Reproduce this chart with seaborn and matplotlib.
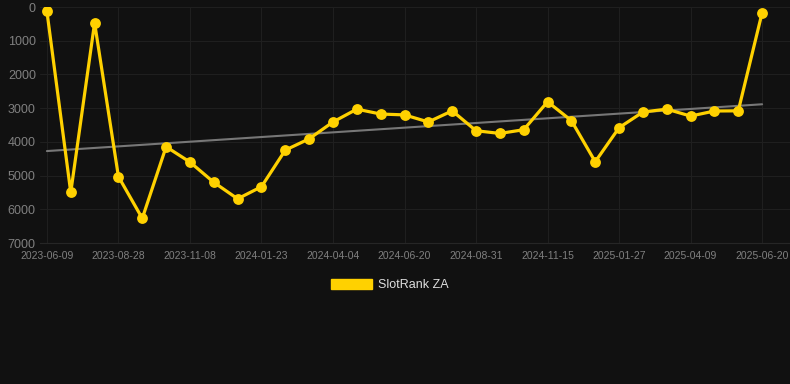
import numpy as np
import pandas as pd
import matplotlib
matplotlib.use("Agg")
import matplotlib.pyplot as plt
import matplotlib.patches as mpatches
import seaborn as sns

# Datos
dates = ['2023-06-09', '2023-07-05', '2023-08-02', '2023-08-28', '2023-09-20', '2023-10-14',
         '2023-11-08', '2023-12-03', '2023-12-28', '2024-01-23', '2024-02-15', '2024-03-10',
         '2024-04-04', '2024-04-29', '2024-05-25', '2024-06-20', '2024-07-14', '2024-08-07',
         '2024-08-31', '2024-09-25', '2024-10-21', '2024-11-15', '2024-12-09', '2025-01-02',
         '2025-01-27', '2025-02-20', '2025-03-16', '2025-04-09', '2025-05-03', '2025-05-27',
         '2025-06-20']
ranks = [130, 5500, 470, 5030, 6270, 4145, 4600, 5200, 5690, 5330, 4245, 3910,
         3410, 3030, 3175, 3200, 3410, 3080, 3670, 3750, 3640, 2810, 3370, 4590,
         3580, 3115, 3030, 3235, 3085, 3080, 170]
label = 'SlotRank ZA'

bg = '#111111'
gold = '#FFD100'

df = pd.DataFrame({'idx': np.arange(len(ranks)), 'rank': ranks, 'date': dates})

sns.set_style('dark')
plt.rcParams['font.family'] = ['Liberation Sans', 'DejaVu Sans']

fig = plt.figure(figsize=(7.9, 3.84), dpi=100, facecolor=bg)
ax = fig.add_axes([40 / 790, 1 - 243 / 384, 750 / 790, 236 / 384])
ax.set_facecolor(bg)

# Tendencia
sns.regplot(data=df, x='idx', y='rank', scatter=False, ci=None, ax=ax, truncate=True,
            line_kws={'color': '#777777', 'lw': 1.5, 'zorder': 2})

# Serie principal
sns.lineplot(data=df, x='idx', y='rank', ax=ax, color=gold, lw=2.3, marker='o',
             markersize=7.8, markeredgewidth=0, solid_joinstyle='miter', zorder=3)

ax.set_ylim(7000, 0)
ax.set_xlim(-0.29, 31.17)
ax.set_yticks(range(0, 7001, 1000))
ax.set_yticklabels([str(v) for v in range(0, 7001, 1000)])
ax.set_xticks(df['idx'][::3])
ax.set_xticklabels(df['date'][::3])
ax.tick_params(axis='y', labelsize=9, colors='#808080', length=0, pad=3)
ax.tick_params(axis='x', labelsize=7.5, colors='#808080', length=0, pad=6)
ax.grid(True, color='#1f1f1f', lw=0.8)
ax.set_axisbelow(True)
for s in ax.spines.values():
    s.set_visible(False)
ax.spines['bottom'].set_visible(True)
ax.spines['bottom'].set_color('#262626')
ax.set_xlabel('')
ax.set_ylabel('')
if ax.get_legend():
    ax.get_legend().remove()

handle = mpatches.Patch(facecolor=gold, edgecolor=gold, label=label)
leg = fig.legend(handles=[handle], loc='center', bbox_to_anchor=(390 / 790, 1 - 285 / 384),
                 frameon=False, fontsize=9, handlelength=3.3, handleheight=0.9,
                 handletextpad=0.5, labelcolor='#dddddd')

fig.savefig('out.png', dpi=100, facecolor=bg)
plt.close()
